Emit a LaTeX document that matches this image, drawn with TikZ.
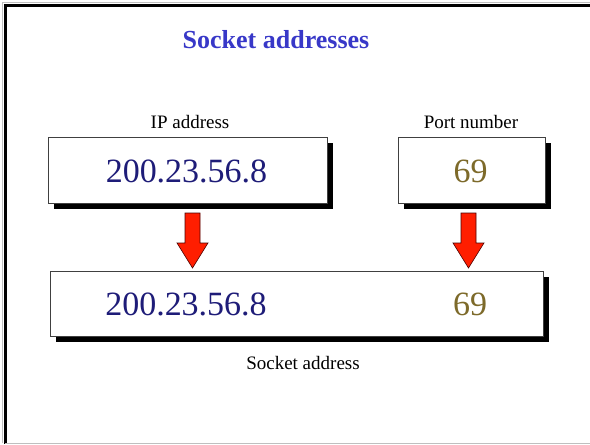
\documentclass[tikz,border=0pt]{standalone}
\usepackage{fontspec}
\setmainfont{Liberation Serif}
\usetikzlibrary{calc}
\definecolor{titleblue}{RGB}{56,56,200}
\definecolor{ipnavy}{RGB}{30,28,120}
\definecolor{portolive}{RGB}{125,106,42}
\definecolor{arrowred}{RGB}{255,30,0}
\tikzset{
  addrbox/.style={draw=black!75, line width=0.9pt, fill=white},
  shadowbox/.style={fill=black},
  ipnum/.style={text=ipnavy, font=\fontsize{34}{38}\selectfont, inner sep=0pt},
  portnum/.style={text=portolive, font=\fontsize{34}{38}\selectfont, inner sep=0pt},
  caption/.style={font=\fontsize{19}{22}\selectfont, inner sep=0pt},
  downarrow/.style={fill=arrowred, draw=black!70!red, line width=0.6pt, line join=miter}
}
% draw a boxed field with its drop shadow
\newcommand{\shadowedbox}[3]{%
  \fill[shadowbox] ($(#1)+(6,6)$) rectangle ($(#2)+(6,6)$);
  \draw[addrbox] (#1) rectangle (#2);
  \coordinate (#3) at ($(#1)!0.5!(#2)$);
}
% block arrow pointing down, tip at the given coordinate
\newcommand{\blockarrow}[1]{%
  \draw[downarrow] ($(#1)+(-7.5,-55)$) -- ($(#1)+(7.5,-55)$) -- ($(#1)+(7.5,-25)$)
    -- ($(#1)+(15.5,-25)$) -- (#1) -- ($(#1)+(-15.5,-25)$) -- ($(#1)+(-7.5,-25)$) -- cycle;
}
\begin{document}
\begin{tikzpicture}[x=1pt, y=-1pt]
  \useasboundingbox (0,0) rectangle (590,445);
  \fill[white] (0,0) rectangle (590,445);
  % page frame
  \draw[black!25, line width=1pt] (2,443) -- (2,2) -- (590,2);
  \draw[black, line width=3pt] (5,443.5) -- (5,5) -- (590,5);
  \draw[black!25, line width=1.2pt] (5,443.5) -- (590,443.5);

  % title
  \node[text=titleblue, font=\fontsize{26}{30}\selectfont\bfseries, inner sep=0pt] (title) at (276,40) {Socket addresses};

  % IP address field
  \coordinate (ipA) at (48,137); \coordinate (ipB) at (327,203);
  \shadowedbox{ipA}{ipB}{ipc}
  \node[ipnum] (ipval) at ($(ipc)+(-1,1)$) {200.23.56.8};
  \node[caption] (iplabel) at (190,122) {IP address};

  % port number field
  \coordinate (ptA) at (398,137); \coordinate (ptB) at (545,203);
  \shadowedbox{ptA}{ptB}{ptc}
  \node[portnum] (ptval) at ($(ptc)+(-1,1)$) {69};
  \node[caption] (ptlabel) at (471,122) {Port number};

  % combined socket address field
  \coordinate (skA) at (50,271); \coordinate (skB) at (543,336);
  \shadowedbox{skA}{skB}{skc}
  \node[ipnum] (skip) at (186,304) {200.23.56.8};
  \node[portnum] (skport) at (470,304) {69};
  \node[caption] (sklabel) at (303,363) {Socket address};

  % arrows from the fields into the socket address
  \coordinate (tipL) at (192.5,268);
  \coordinate (tipR) at (468.5,268);
  \blockarrow{tipL}
  \blockarrow{tipR}
\end{tikzpicture}
\end{document}
